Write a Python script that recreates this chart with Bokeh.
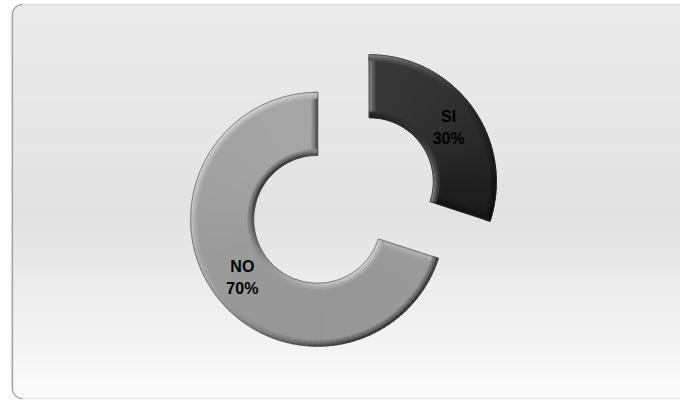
import numpy as np
from bokeh.plotting import figure
from bokeh.models import Range1d, ColumnDataSource
from bokeh.embed import file_html
from bokeh.resources import INLINE
from bokeh.core.properties import value

# ---- data ----
categories = ["SI", "NO"]
values = [30, 70]
pct_labels = ["30%", "70%"]

# ---- style ----
top_colors = [(62, 62, 62), (168, 168, 168)]
bottom_colors = [(4, 4, 4), (148, 148, 148)]
R_OUT, R_IN = 127.0, 64.0
EXPLODE = 32.0
CX, CY = 343.0, 200.0   # page coords of donut centre (y measured from bottom: 400 - page_y)
LIGHT = np.array([-0.7071, 0.7071])

W, H = 680, 400
p = figure(width=W, height=H, output_backend="svg", toolbar_location=None,
           x_range=Range1d(0, 680), y_range=Range1d(0, 400), min_border=0)
p.axis.visible = False
p.grid.visible = False
p.outline_line_color = None
p.background_fill_color = "white"
p.border_fill_color = "white"


def hexc(rgb):
    r, g, b = [int(max(0, min(255, round(c)))) for c in rgb]
    return "#%02x%02x%02x" % (r, g, b)


def shade(rgb, s, light_amt=0.5, dark_amt=0.65):
    rgb = np.array(rgb, dtype=float)
    if s >= 0:
        return rgb + (255 - rgb) * s * light_amt
    return rgb * (1 + s * dark_amt)


# ---- background gradient (rounded panel) ----
PX0, PY0, PY1 = 12.0, 4.0, 398.0   # page coords
stops_y = [4, 120, 215, 300, 398]
stops_c = [234, 231, 226, 238, 251]
ys = np.arange(PY0, PY1, 2.0)
bg = ColumnDataSource(dict(
    left=[PX0] * len(ys), right=[690.0] * len(ys),
    top=[400 - y + 0.6 for y in ys], bottom=[400 - y - 2.6 for y in ys],
    color=[hexc([np.interp(y + 1, stops_y, stops_c)] * 3) for y in ys]))
p.quad(left="left", right="right", top="top", bottom="bottom", source=bg,
       fill_color="color", line_color=None)
# clean top/bottom edges
p.quad(left=[0], right=[690], top=[400 - PY1 - 0.0], bottom=[-5], fill_color="white", line_color=None)
p.quad(left=[0], right=[690], top=[405], bottom=[400 - PY0], fill_color="white", line_color=None)

cr = 10.0
# top-left corner
tcx, tcy = PX0 + cr, 400 - (PY0 + cr)
a_t = np.linspace(np.pi, np.pi / 2, 24)
p.patch([PX0 - 0.5] + list(tcx + cr * np.cos(a_t)) + [PX0 - 0.5],
        [tcy] + list(tcy + cr * np.sin(a_t)) + [tcy + cr + 1],
        fill_color="white", line_color=None)
# bottom-left corner
bcx, bcy = PX0 + cr, 400 - (PY1 - cr)
a_b = np.linspace(np.pi, 3 * np.pi / 2, 24)
p.patch([PX0 - 0.5] + list(bcx + cr * np.cos(a_b)) + [PX0 - 0.5],
        [bcy] + list(bcy + cr * np.sin(a_b)) + [bcy - cr - 1],
        fill_color="white", line_color=None)

# border: shadowed left edge, faint top
bx = list(tcx + cr * np.cos(a_t[::-1]))[::-1]
p.line(list(bcx + cr * np.cos(a_b[::-1])) + list(tcx + cr * np.cos(a_t)),
       list(bcy + cr * np.sin(a_b[::-1])) + list(tcy + cr * np.sin(a_t)),
       line_color="#a0a0a0", line_width=1.3)
p.line([PX0 - 1.2, PX0 - 1.2], [bcy, tcy], line_color="#d6d6d6", line_width=1)
p.line([tcx, 690], [400 - PY0, 400 - PY0], line_color="#dcdcdc", line_width=1)
p.line([bcx, 690], [400 - PY1, 400 - PY1], line_color="#e4e4e4", line_width=1)

# ---- donut ----
total = float(sum(values))
start = np.pi / 2
for i, (cat, v) in enumerate(zip(categories, values)):
    sweep = v / total * 2 * np.pi
    a_hi = start
    a_lo = start - sweep
    start = a_lo
    mid = (a_hi + a_lo) / 2
    cx = CX + EXPLODE * np.cos(mid)
    cy = CY + EXPLODE * np.sin(mid)

    n = max(8, int(np.degrees(sweep) / 2.5))
    edges = np.linspace(a_lo, a_hi, n + 1)
    mids = (edges[:-1] + edges[1:]) / 2
    base_mid = []
    for m in mids:
        ym = (R_IN + R_OUT) / 2 * np.sin(m)
        t = (R_OUT - ym) / (2 * R_OUT)
        base_mid.append(np.array(top_colors[i]) * (1 - t) + np.array(bottom_colors[i]) * t)
    cols = [hexc(c) for c in base_mid]
    body = ColumnDataSource(dict(x=[cx] * n, y=[cy] * n, s=edges[:-1] - 0.004,
                                 e=edges[1:] + 0.004, c=cols))
    p.annular_wedge(x="x", y="y", inner_radius=R_IN, outer_radius=R_OUT,
                    start_angle="s", end_angle="e", source=body,
                    fill_color="c", line_color="c", line_width=0.6)

    # straight edge bevels
    bands = [(6.0, 0.3), (4.0, 0.6), (2.0, 1.0)]
    for a, inward in [(a_hi, np.array([np.sin(a_hi), -np.cos(a_hi)])),
                      (a_lo, np.array([-np.sin(a_lo), np.cos(a_lo)]))]:
        u = np.array([np.cos(a), np.sin(a)])
        s_dot = float(np.dot(-inward, LIGHT))
        c0 = base_mid[-1] if a == a_hi else base_mid[0]
        for w, k in bands:
            pts = [np.array([cx, cy]) + R_IN * u, np.array([cx, cy]) + R_OUT * u,
                   np.array([cx, cy]) + R_OUT * u + w * inward,
                   np.array([cx, cy]) + R_IN * u + w * inward]
            col = hexc(shade(c0, s_dot * k))
            p.patch([q[0] for q in pts], [q[1] for q in pts], fill_color=col,
                    line_color=col, line_width=0.4)

    # arc bevels
    for (r0, r1, k) in [(R_OUT - 6, R_OUT - 4, 0.3), (R_OUT - 4, R_OUT - 2, 0.6), (R_OUT - 2, R_OUT, 1.0),
                        (R_IN + 4, R_IN + 6, 0.3), (R_IN + 2, R_IN + 4, 0.6), (R_IN, R_IN + 2, 1.0)]:
        outer = r0 > (R_IN + R_OUT) / 2
        bc = []
        for j, m in enumerate(mids):
            s_dot = np.cos(m - 3 * np.pi / 4) if outer else np.cos(m + np.pi / 4)
            bc.append(hexc(shade(base_mid[j], s_dot * k)))
        src = ColumnDataSource(dict(x=[cx] * n, y=[cy] * n, s=edges[:-1] - 0.004,
                                    e=edges[1:] + 0.004, c=bc))
        p.annular_wedge(x="x", y="y", inner_radius=r0, outer_radius=r1,
                        start_angle="s", end_angle="e", source=src,
                        fill_color="c", line_color="c", line_width=0.4)

    # thin outline
    p.annular_wedge(x=cx, y=cy, inner_radius=R_IN, outer_radius=R_OUT,
                    start_angle=a_lo, end_angle=a_hi, fill_color=None,
                    line_color="#3a3a3a", line_width=0.8, line_alpha=0.6)

    # labels
    lr = (R_IN + R_OUT) / 2
    lx = cx + lr * np.cos(mid) + 2
    ly = cy + lr * np.sin(mid) - 2
    for txt, off in [(cat, -11), (pct_labels[i], 11)]:
        p.text(x=[lx], y=[ly], text=[txt], text_align="center", text_baseline="middle",
               y_offset=off, text_font=value("Liberation Sans"), text_font_style="bold",
               text_font_size="16px", text_color="black")

open("out.html", "w").write(file_html(p, INLINE))
